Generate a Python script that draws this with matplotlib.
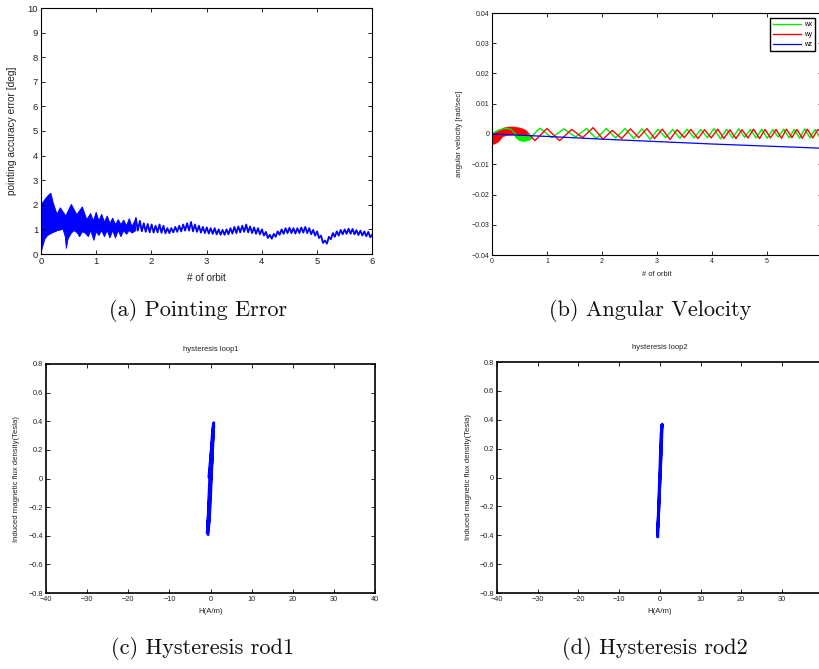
import numpy as np
import matplotlib
matplotlib.use("Agg")
import matplotlib.pyplot as plt

plt.rcParams['font.family'] = ['Liberation Sans', 'DejaVu Sans']
plt.rcParams['axes.unicode_minus'] = True

# ---------------- (a) pointing error ----------------
# dense early band: upper and lower envelopes [deg]
band_up_t = [0.0, 0.05, 0.10, 0.15, 0.18, 0.22, 0.29, 0.35, 0.45, 0.55, 0.65, 0.75,
             0.83, 0.90, 0.95, 1.00, 1.05, 1.10, 1.15, 1.20, 1.25, 1.30, 1.35, 1.40,
             1.45, 1.50, 1.55, 1.60, 1.65, 1.72]
band_up_v = [2.00, 2.15, 2.30, 2.42, 2.47, 2.10, 1.62, 1.88, 1.55, 2.02, 1.60, 1.92,
             1.40, 1.65, 1.35, 1.70, 1.35, 1.62, 1.30, 1.55, 1.25, 1.46, 1.20, 1.40,
             1.20, 1.38, 1.15, 1.44, 1.12, 1.45]
band_lo_t = [0.0, 0.03, 0.07, 0.12, 0.20, 0.30, 0.40, 0.44, 0.46, 0.49, 0.55, 0.60,
             0.66, 0.70, 0.75, 0.80, 0.86, 0.90, 0.96, 1.00, 1.05, 1.10, 1.15, 1.20,
             1.25, 1.30, 1.35, 1.40, 1.45, 1.50, 1.55, 1.60, 1.65, 1.72]
band_lo_v = [0.02, 0.30, 0.60, 0.75, 0.85, 0.95, 1.00, 0.70, 0.22, 0.60, 0.85, 0.95,
             0.85, 0.70, 0.90, 0.85, 0.70, 0.95, 0.55, 0.90, 0.75, 0.95, 0.70, 0.95,
             0.65, 0.95, 0.65, 0.95, 0.70, 0.95, 0.80, 0.95, 0.85, 0.95]

# later oscillation: alternating peaks and troughs [deg]
wave_start, wave_step = 1.72, 0.0357
wave_peaks = [1.45, 1.35, 1.25, 1.22, 1.20, 1.15, 1.20, 1.15, 1.05, 1.05,
              1.10, 1.15, 1.20, 1.25, 1.30, 1.20, 1.15, 1.10, 1.08, 1.05,
              1.05, 1.00, 0.98, 1.00, 1.05, 1.10, 1.12, 1.15, 1.20, 1.12,
              1.08, 1.05, 1.00, 0.90, 0.78, 0.82, 0.92, 1.00, 1.05, 1.07,
              1.05, 1.05, 1.08, 1.10, 1.05, 0.98, 0.92, 0.75, 0.55, 0.70,
              0.85, 0.92, 0.98, 1.00, 1.03, 1.02, 0.97, 0.95, 0.92, 0.90]
wave_troughs = [0.95, 0.92, 0.90, 0.88, 0.87, 0.88, 0.86, 0.84, 0.85, 0.88,
                0.90, 0.92, 0.95, 0.95, 0.92, 0.90, 0.87, 0.85, 0.83, 0.82,
                0.80, 0.78, 0.78, 0.80, 0.83, 0.85, 0.88, 0.90, 0.88, 0.85,
                0.82, 0.80, 0.75, 0.65, 0.62, 0.70, 0.78, 0.82, 0.85, 0.85,
                0.83, 0.85, 0.87, 0.85, 0.80, 0.75, 0.65, 0.45, 0.42, 0.60,
                0.70, 0.75, 0.80, 0.82, 0.82, 0.80, 0.77, 0.75, 0.72, 0.68]
wave_end = (6.0, 0.78)

# ---------------- (b) angular velocity ----------------
wz_t = [0, 1, 2, 3, 4, 5, 6]
wz_v = [0.0, -0.0008, -0.0017, -0.0025, -0.0033, -0.0040, -0.0047]

wx_t = [0.0, 0.10, 0.25, 0.35, 0.45, 0.60, 0.68,
        0.87, 1.09, 1.31, 1.52, 1.72, 1.90, 2.08, 2.25, 2.42, 2.58,
        2.73, 2.88, 3.02, 3.16, 3.29, 3.42, 3.55, 3.68, 3.80, 3.92,
        4.04, 4.16, 4.27, 4.38, 4.49, 4.60, 4.70, 4.81, 4.91, 5.01,
        5.11, 5.21, 5.31, 5.41, 5.50, 5.60, 5.69, 5.79, 5.88, 5.97, 6.00]
wx_v = [0.0, 0.0012, 0.0019, 0.0015, -0.0005, -0.0018, -0.0015,
        0.0019, -0.0012, 0.0017, -0.0010, 0.0018, -0.0015, 0.0018, -0.0013, 0.0018, -0.0015,
        0.0017, -0.0018, 0.0016, -0.0012, 0.0015, -0.0014, 0.0016, -0.0013, 0.0015, -0.0012,
        0.0018, -0.0016, 0.0016, -0.0013, 0.0017, -0.0011, 0.0015, -0.0013, 0.0016, -0.0014,
        0.0015, -0.0010, 0.0016, -0.0013, 0.0015, -0.0014, 0.0017, -0.0013, 0.0015, -0.0012,
        -0.0010]
wx_band_t = [0.42, 0.50, 0.58, 0.66, 0.72]
wx_band_up = [-0.0002, -0.0006, -0.0008, -0.0008, -0.0012]
wx_band_lo = [-0.0010, -0.0022, -0.0025, -0.0022, -0.0016]

wy_t = [0.65,
        0.78, 1.00, 1.23, 1.45, 1.65, 1.84, 2.02, 2.19, 2.36, 2.52,
        2.67, 2.82, 2.96, 3.10, 3.24, 3.37, 3.50, 3.62, 3.75, 3.87,
        3.99, 4.11, 4.22, 4.33, 4.44, 4.55, 4.66, 4.76, 4.87, 4.97,
        5.07, 5.17, 5.27, 5.36, 5.46, 5.55, 5.65, 5.74, 5.84, 5.93,
        6.00]
wy_v = [0.0004,
        -0.0022, 0.0018, -0.0022, 0.0015, -0.0012, 0.0021, -0.0017, 0.0012, -0.0015, 0.0017,
        -0.0012, 0.0018, -0.0015, 0.0016, -0.0018, 0.0014, -0.0012, 0.0015, -0.0015, 0.0014,
        -0.0013, 0.0016, -0.0015, 0.0014, -0.0015, 0.0014, -0.0013, 0.0016, -0.0015, 0.0015,
        -0.0013, 0.0015, -0.0014, 0.0016, -0.0012, 0.0015, -0.0014, 0.0016, -0.0013, 0.0015,
        0.0008]
wy_band_t = [0.0, 0.05, 0.12, 0.20, 0.30, 0.40, 0.50, 0.60, 0.65]
wy_band_up = [0.0002, 0.0003, 0.0009, 0.0019, 0.0023, 0.0023, 0.0020, 0.0014, 0.0006]
wy_band_lo = [-0.0035, -0.0033, -0.0026, -0.0008, -0.0004, -0.0003, -0.0004, -0.0006, -0.0004]

# ---------------- (c), (d) hysteresis loops ----------------
h1 = [-0.6, -0.3, 0.0, 0.2, 0.4, 0.6, 0.8, 0.7, 0.4, 0.1, -0.2, -0.5, -0.7, -0.4,
      -0.1, 0.3, 0.6, 0.7, 0.5, 0.2, -0.3, -0.6, -0.8, -0.3, 0.1, -0.4, 0.2, 0.8]
b1 = [-0.39, -0.30, -0.15, 0.00, 0.12, 0.25, 0.39, 0.38, 0.30, 0.15, 0.00, -0.20,
      -0.38, -0.30, -0.10, 0.10, 0.30, 0.37, 0.25, 0.05, -0.15, -0.30, -0.38, -0.20,
      0.02, 0.01, 0.20, 0.36]
h2 = [-0.5, -0.2, 0.1, 0.4, 0.6, 0.3, 0.0, -0.3, -0.6, -0.3, 0.2, 0.5]
b2 = [-0.41, -0.20, 0.00, 0.20, 0.37, 0.30, 0.05, -0.20, -0.40, -0.25, 0.10, 0.36]

FIG_W, FIG_H = 819, 669
fig = plt.figure(figsize=(FIG_W / 100, FIG_H / 100), dpi=100)


def box(left, top, right, bottom):
    return [left / FIG_W, 1 - bottom / FIG_H, (right - left) / FIG_W, (bottom - top) / FIG_H]


def matlab_axes(ax, fs, lw=0.8):
    ax.tick_params(direction='in', top=True, right=True, labelsize=fs, length=3,
                   width=0.6, pad=2, colors='black', labelcolor='#222222')
    for s in ax.spines.values():
        s.set_linewidth(lw)
        s.set_color('black')


# (a)
ax = fig.add_axes(box(41, 8, 372, 254))
poly_x = band_up_t + band_lo_t[::-1]
poly_y = band_up_v + band_lo_v[::-1]
ax.fill(poly_x, poly_y, color='#0000ff', lw=0.6, ec='#0000ff')
wt, wv = [], []
for i, (p, q) in enumerate(zip(wave_peaks, wave_troughs)):
    wt += [wave_start + 2 * i * wave_step, wave_start + (2 * i + 1) * wave_step]
    wv += [p, q]
wt.append(wave_end[0]); wv.append(wave_end[1])
ax.plot(wt, wv, color='#0000ff', lw=1.3)
ax.set_xlim(0, 6); ax.set_ylim(0, 10)
ax.set_xticks(range(0, 7)); ax.set_yticks(range(0, 11))
matlab_axes(ax, 6.8)
ax.set_xlabel('# of orbit', fontsize=7.2, color='#222222')
ax.set_ylabel('pointing accuracy error [deg]', fontsize=7.3, color='#222222')
ax.xaxis.set_label_coords(0.5, -0.077)
ax.yaxis.set_label_coords(-0.0725, 0.5)

# (b)
ax = fig.add_axes(box(492, 13, 821.6, 255))
ax.fill(wy_band_t + wy_band_t[::-1], wy_band_up + wy_band_lo[::-1], color='#ff0000', lw=0.5)
ax.fill(wx_band_t + wx_band_t[::-1], wx_band_up + wx_band_lo[::-1], color='#00ee00', lw=0.5)
ax.plot(wx_t, wx_v, color='#00ee00', lw=1.0, label='wx')
ax.plot(wy_t, wy_v, color='#ff0000', lw=1.0, label='wy')
ax.plot(wz_t, wz_v, color='#0000ff', lw=0.9, label='wz')
ax.set_xlim(0, 6); ax.set_ylim(-0.04, 0.04)
ax.set_xticks(range(0, 7))
ax.set_xticklabels(['0', '1', '2', '3', '4', '5', ''])
ax.set_yticks([-0.04, -0.03, -0.02, -0.01, 0, 0.01, 0.02, 0.03, 0.04])
ax.set_yticklabels(['\u22120.04', '\u22120.03', '\u22120.02', '\u22120.01', '0',
                    '0.01', '0.02', '0.03', '0.04'])
matlab_axes(ax, 5.0)
ax.set_xlabel('# of orbit', fontsize=5.4, color='#222222')
ax.set_ylabel('angular velocity [rad/sec]', fontsize=5.6, color='#222222')
ax.xaxis.set_label_coords(0.5, -0.065)
ax.yaxis.set_label_coords(-0.088, 0.5)
leg = ax.legend(loc='upper right', bbox_to_anchor=(0.98, 0.979), borderaxespad=0,
                fontsize=4.8, fancybox=False, edgecolor='black', framealpha=1,
                handlelength=4.2, handletextpad=0.5, borderpad=0.45, labelspacing=0.45)
leg.get_frame().set_linewidth(1.0)


def hysteresis(rect, hv, bv, title, xlabels):
    a = fig.add_axes(rect)
    a.plot(hv, bv, color='#0000ff', lw=2.0)
    a.set_xlim(-40, 40); a.set_ylim(-0.8, 0.8)
    a.set_xticks(range(-40, 41, 10))
    a.set_yticks([-0.8, -0.6, -0.4, -0.2, 0, 0.2, 0.4, 0.6, 0.8])
    a.set_xticklabels(xlabels)
    a.set_yticklabels(['\u22120.8', '\u22120.6', '\u22120.4', '\u22120.2', '0', '0.2', '0.4', '0.6', '0.8'])
    matlab_axes(a, 5.3, lw=1.2)
    a.set_title(title, fontsize=5.5, color='#222222', y=1.02)
    a.set_xlabel('H(A/m)', fontsize=5.6, color='#222222')
    a.set_ylabel('Induced magnetic flux density(Tesla)', fontsize=5.6, color='#222222')
    a.xaxis.set_label_coords(0.5, -0.064)
    return a


hx = ['\u221240', '\u221230', '\u221220', '\u221210', '0', '10', '20', '30']
ax = hysteresis(box(46, 364, 375, 593), h1, b1, 'hysteresis loop1', hx + ['40'])
ax.yaxis.set_label_coords(-0.079, 0.5)
ax = hysteresis(box(497, 362, 822.6, 593), h2, b2, 'hysteresis loop2', hx + [''])
ax.yaxis.set_label_coords(-0.076, 0.5)

# sub-figure captions
cap = dict(fontsize=16, family='cmr10', ha='center', va='center', color='#111111')
fig.text(198 / FIG_W, 1 - 310 / FIG_H, '(a) Pointing Error', **cap)
fig.text(650 / FIG_W, 1 - 310 / FIG_H, '(b) Angular Velocity', **cap)
fig.text(203 / FIG_W, 1 - 648 / FIG_H, '(c) Hysteresis rod1', **cap)
fig.text(655 / FIG_W, 1 - 648 / FIG_H, '(d) Hysteresis rod2', **cap)

fig.savefig('out.png', dpi=100)
